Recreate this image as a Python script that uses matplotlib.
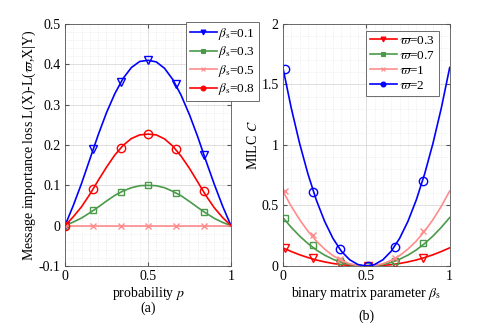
import numpy as np
import matplotlib
matplotlib.use("Agg")
import matplotlib.pyplot as plt
from matplotlib.ticker import MultipleLocator

plt.rcParams['font.family'] = ['Liberation Serif', 'DejaVu Serif']
plt.rcParams['mathtext.fontset'] = 'stix'
plt.rcParams['font.size'] = 10

# ---- (a) message importance loss vs probability p
p_line = [0, 0.05, 0.10, 0.15, 0.20, 0.25, 0.30, 0.35, 0.40, 0.45, 0.50,
          0.55, 0.60, 0.65, 0.70, 0.75, 0.80, 0.85, 0.90, 0.95, 1.0]
loss_b01 = [0, 0.05, 0.105, 0.165, 0.225, 0.28, 0.327, 0.365, 0.392, 0.407, 0.41,
            0.406, 0.390, 0.362, 0.323, 0.275, 0.220, 0.160, 0.102, 0.048, 0]
loss_b03 = [0, 0.009, 0.019, 0.032, 0.046, 0.061, 0.075, 0.086, 0.094, 0.099, 0.1,
            0.099, 0.094, 0.085, 0.074, 0.060, 0.045, 0.031, 0.018, 0.008, 0]
loss_b05 = [0] * 21
loss_b08 = [0, 0.022, 0.047, 0.078, 0.112, 0.145, 0.175, 0.199, 0.216, 0.225, 0.227,
            0.225, 0.215, 0.197, 0.172, 0.142, 0.108, 0.074, 0.044, 0.020, 0]

p_mark = [0, 0.17, 0.34, 0.5, 0.67, 0.84]
mark_b01 = [0, 0.19, 0.355, 0.41, 0.35, 0.175]
mark_b03 = [0, 0.038, 0.083, 0.1, 0.082, 0.035]
mark_b05 = [0, 0, 0, 0, 0, 0]
mark_b08 = [0, 0.092, 0.193, 0.227, 0.19, 0.087]

# ---- (b) MILC C vs beta_s
b_line = [0, 0.05, 0.10, 0.15, 0.20, 0.25, 0.30, 0.35, 0.40, 0.45, 0.50,
          0.55, 0.60, 0.65, 0.70, 0.75, 0.80, 0.85, 0.90, 0.95, 1.0]
c_w03 = [0.15, 0.12, 0.093, 0.07, 0.05, 0.034, 0.021, 0.011, 0.005, 0.001, 0,
         0.001, 0.005, 0.011, 0.021, 0.034, 0.05, 0.07, 0.093, 0.12, 0.15]
c_w07 = [0.40, 0.32, 0.248, 0.186, 0.133, 0.09, 0.056, 0.03, 0.012, 0.003, 0,
         0.003, 0.012, 0.03, 0.056, 0.09, 0.133, 0.186, 0.248, 0.32, 0.40]
c_w1 = [0.62, 0.494, 0.384, 0.288, 0.207, 0.14, 0.086, 0.047, 0.019, 0.004, 0,
        0.004, 0.019, 0.047, 0.086, 0.14, 0.207, 0.288, 0.384, 0.494, 0.62]
c_w2 = [1.64, 1.307, 1.015, 0.762, 0.547, 0.37, 0.229, 0.123, 0.052, 0.012, 0,
        0.012, 0.052, 0.123, 0.229, 0.37, 0.547, 0.762, 1.015, 1.307, 1.64]

b_mark = [0.01, 0.18, 0.345, 0.51, 0.675, 0.84]
mk_w03 = [0.15, 0.065, 0.015, 0, 0.02, 0.07]
mk_w07 = [0.40, 0.17, 0.04, 0, 0.045, 0.19]
mk_w1 = [0.62, 0.26, 0.06, 0, 0.07, 0.29]
mk_w2 = [1.63, 0.61, 0.14, 0, 0.16, 0.70]

blue = '#0000ff'
green = '#4a9a4a'
pink = '#ff8c8c'
red = '#ff0000'


def style_axes(ax):
    ax.grid(which='major', color='#d9d9d9', lw=0.6, ls='-')
    ax.grid(which='minor', color='#e3e3e3', lw=0.5, ls=':')
    ax.set_axisbelow(True)
    for s in ax.spines.values():
        s.set_color('#555555')
        s.set_linewidth(0.6)
    ax.tick_params(which='both', direction='in', top=True, right=True,
                   color='#555555', labelsize=10, pad=3)
    ax.tick_params(which='major', length=3)
    ax.tick_params(which='minor', length=0)


def series(ax, xl, yl, xm, ym, color, marker, label, ms=6):
    ax.plot(xl, yl, color=color, lw=1.2)
    ax.plot(xm, ym, ls='none', marker=marker, mfc='none', mec=color, ms=ms, mew=1.0)
    # legend entry: small filled marker, like the original
    ax.plot([], [], color=color, lw=1.2, marker=marker, mfc=color, mec=color,
            ms=3.5, mew=0.8, label=label)


def make_legend(ax, anchor):
    leg = ax.legend(loc='upper left', bbox_to_anchor=anchor, fontsize=9.5,
                    frameon=True, fancybox=False, edgecolor='#555555', framealpha=1,
                    handlelength=2.0, handletextpad=0.15, borderpad=0.3,
                    labelspacing=0.2, borderaxespad=0)
    leg.get_frame().set_linewidth(0.6)


fig = plt.figure(figsize=(4.98, 3.24), dpi=100)
ax1 = fig.add_axes([0.1305, 0.179, 0.3333, 0.747])
ax2 = fig.add_axes([0.568, 0.179, 0.335, 0.747])

series(ax1, p_line, loss_b01, p_mark, mark_b01, blue, 'v', r'$\beta_\mathrm{s}$=0.1')
series(ax1, p_line, loss_b03, p_mark, mark_b03, green, 's', r'$\beta_\mathrm{s}$=0.3', ms=5)
series(ax1, p_line, loss_b05, p_mark, mark_b05, pink, 'x', r'$\beta_\mathrm{s}$=0.5', ms=5)
series(ax1, p_line, loss_b08, p_mark, mark_b08, red, 'o', r'$\beta_\mathrm{s}$=0.8')
ax1.set_xlim(0, 1)
ax1.set_ylim(-0.1, 0.5)
ax1.xaxis.set_minor_locator(MultipleLocator(0.05))
ax1.yaxis.set_minor_locator(MultipleLocator(0.02))
ax1.set_yticks([-0.1, 0, 0.1, 0.2, 0.3, 0.4, 0.5])
ax1.set_yticklabels(['-0.1', '0', '0.1', '0.2', '0.3', '0.4', '0.5'])
ax1.set_xticks([0, 0.5, 1])
ax1.set_xticklabels(['0', '0.5', '1'])
style_axes(ax1)
ax1.set_xlabel(r'probability $p$', labelpad=1)
ax1.set_ylabel(r'Message importance loss L(X)-L($\varpi$,X|Y)', labelpad=1)
ax1.text(0.5, -0.174, '(a)', transform=ax1.transAxes, ha='center', va='center')
make_legend(ax1, (0.73, 1.01))

series(ax2, b_line, c_w03, b_mark, mk_w03, red, 'v', r'$\varpi$=0.3')
series(ax2, b_line, c_w07, b_mark, mk_w07, green, 's', r'$\varpi$=0.7', ms=5)
series(ax2, b_line, c_w1, b_mark, mk_w1, pink, 'x', r'$\varpi$=1', ms=5)
series(ax2, b_line, c_w2, b_mark, mk_w2, blue, 'o', r'$\varpi$=2')
ax2.set_xlim(0, 1)
ax2.set_ylim(0, 2)
ax2.xaxis.set_minor_locator(MultipleLocator(0.05))
ax2.yaxis.set_minor_locator(MultipleLocator(0.1))
ax2.set_xticks([0, 0.5, 1])
ax2.set_xticklabels(['0', '0.5', '1'])
ax2.set_yticks([0, 0.5, 1, 1.5, 2])
ax2.set_yticklabels(['0', '0.5', '1', '1.5', '2'])
style_axes(ax2)
ax2.set_xlabel(r'binary matrix parameter $\beta_\mathrm{s}$', labelpad=1)
ax2.set_ylabel(r'MILC $C$', labelpad=1)
ax2.text(0.5, -0.207, '(b)', transform=ax2.transAxes, ha='center', va='center')
make_legend(ax2, (0.5, 0.972))

fig.savefig('out.png', dpi=100)
